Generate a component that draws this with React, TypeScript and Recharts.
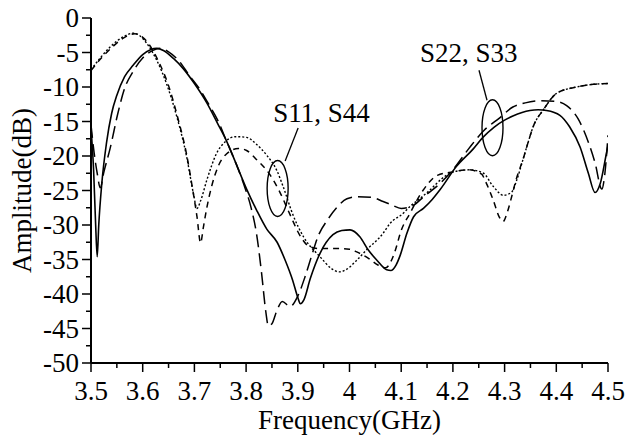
import React from 'react';
import { LineChart, Line, XAxis, YAxis, ReferenceDot, Label } from 'recharts';

// frequency (GHz) / amplitude (dB) pairs
const solidFreq = [3.5, 3.505, 3.509, 3.512, 3.515, 3.521, 3.53, 3.54, 3.55, 3.565, 3.581, 3.6, 3.615, 3.627, 3.64, 3.66, 3.678, 3.7, 3.724, 3.745, 3.762, 3.78, 3.801, 3.82, 3.84, 3.86, 3.875, 3.89, 3.9, 3.905, 3.912, 3.924, 3.943, 3.968, 3.985, 4.001, 4.02, 4.036, 4.053, 4.072, 4.08, 4.09, 4.098, 4.111, 4.124, 4.143, 4.16, 4.175, 4.207, 4.239, 4.258, 4.28, 4.3, 4.316, 4.349, 4.365, 4.381, 4.407, 4.426, 4.446, 4.462, 4.475, 4.485, 4.497, 4.5];
const solidAmp = [-16, -22, -30, -34.6, -30, -23.9, -18.1, -13.8, -11.2, -8.5, -6.9, -5.3, -4.6, -4.4, -4.7, -5.9, -7.3, -9.5, -12.3, -15.3, -17.8, -21, -24.8, -27.8, -30.6, -32.5, -35, -38, -40.5, -41.4, -40.8, -37.8, -34.1, -31.4, -30.8, -30.7, -31.7, -33.6, -35.1, -36.5, -36.6, -35.8, -34.4, -31.2, -28.8, -27.6, -26.3, -24.9, -21.5, -19, -17.3, -15.8, -14.8, -14.2, -13.4, -13.3, -13.4, -14.1, -15.8, -18.7, -22.5, -25.3, -24, -19.6, -18.5];

const longFreq = [3.5, 3.506, 3.512, 3.518, 3.525, 3.537, 3.552, 3.565, 3.581, 3.6, 3.62, 3.635, 3.65, 3.67, 3.69, 3.711, 3.73, 3.745, 3.762, 3.78, 3.795, 3.81, 3.82, 3.83, 3.838, 3.843, 3.85, 3.86, 3.87, 3.885, 3.9, 3.914, 3.927, 3.94, 3.958, 3.975, 3.995, 4.014, 4.043, 4.065, 4.082, 4.1, 4.12, 4.145, 4.175, 4.2, 4.23, 4.26, 4.29, 4.316, 4.34, 4.37, 4.4, 4.42, 4.442, 4.462, 4.475, 4.488, 4.494, 4.5];
const longAmp = [-15.5, -19.5, -22.5, -24.6, -22.3, -18.9, -13.8, -10.2, -7.8, -5.8, -4.7, -4.4, -4.9, -6.2, -8.3, -10.4, -12.8, -14.8, -17.8, -21, -24, -27.6, -31.2, -37, -42.5, -44.6, -44.3, -42.3, -41.1, -41.8, -40.3, -37.5, -34.4, -31.5, -29.2, -27.5, -26.2, -25.9, -26, -26.6, -27.1, -27.6, -27.3, -25.8, -24, -22, -19, -16.3, -14.5, -12.9, -12.3, -12, -12.1, -12.7, -14.6, -18, -21, -24.8, -22.5, -17];

const dotFreq = [3.5, 3.52, 3.537, 3.563, 3.582, 3.595, 3.608, 3.627, 3.646, 3.666, 3.685, 3.698, 3.705, 3.712, 3.724, 3.743, 3.76, 3.78, 3.801, 3.82, 3.84, 3.86, 3.872, 3.891, 3.911, 3.943, 3.965, 3.98, 3.995, 4.014, 4.033, 4.065, 4.078, 4.104, 4.117, 4.136, 4.156, 4.18, 4.201, 4.233, 4.259, 4.278, 4.298, 4.314, 4.323, 4.336, 4.346, 4.355, 4.375, 4.401, 4.439, 4.472, 4.5];
const dotAmp = [-7.5, -5.6, -4.2, -2.7, -2.2, -2.6, -3.7, -6.1, -9.5, -14.3, -20.1, -25.4, -27.6, -26.5, -23.5, -19.6, -17.9, -17.2, -17.3, -18.3, -19.9, -22.2, -24.5, -28.6, -31.7, -34.6, -36.3, -36.8, -36.4, -35.1, -33.6, -31.2, -29.8, -28.3, -27.3, -26.2, -24.9, -23.2, -22.3, -22, -22.5, -24.4, -25.7, -25.2, -23.6, -20.4, -17.9, -15.8, -13.3, -10.9, -10, -9.6, -9.5];

const shortFreq = [3.5, 3.52, 3.54, 3.565, 3.585, 3.6, 3.612, 3.63, 3.65, 3.668, 3.685, 3.697, 3.705, 3.712, 3.717, 3.724, 3.733, 3.746, 3.762, 3.785, 3.801, 3.82, 3.845, 3.865, 3.885, 3.904, 3.92, 3.94, 3.97, 4.0, 4.014, 4.036, 4.055, 4.07, 4.08, 4.088, 4.1, 4.117, 4.142, 4.17, 4.2, 4.23, 4.255, 4.265, 4.278, 4.29, 4.297, 4.305, 4.314, 4.322, 4.336, 4.346, 4.355, 4.375, 4.401, 4.439, 4.472, 4.5];
const shortAmp = [-7.6, -5.8, -4.3, -2.8, -2.3, -2.8, -3.8, -6.2, -9.8, -14.5, -19.8, -25, -28.8, -32.6, -30.5, -27.5, -24.5, -21.5, -19.7, -18.9, -19.2, -20.5, -22.6, -25.2, -28.5, -31.5, -33, -33.4, -33.4, -33.5, -33.9, -34.8, -35.8, -36.2, -35.3, -33.8, -30.8, -28.3, -25, -22.8, -22.3, -22, -22.6, -24, -26.4, -28.9, -29.5, -28.2, -25.8, -23.5, -20.4, -17.9, -15.8, -13.3, -10.9, -10, -9.6, -9.5];

const xTicks = [3.5, 3.55, 3.6, 3.65, 3.7, 3.75, 3.8, 3.85, 3.9, 3.95, 4, 4.05, 4.1, 4.15, 4.2, 4.25, 4.3, 4.35, 4.4, 4.45, 4.5];
const yTicks = [0, -2.5, -5, -7.5, -10, -12.5, -15, -17.5, -20, -22.5, -25, -27.5, -30, -32.5, -35, -37.5, -40, -42.5, -45, -47.5, -50];

const toRows = (f: number[], a: number[]) => f.map((x, i) => ({ f: x, a: a[i] }));
const solidData = toRows(solidFreq, solidAmp);
const longData = toRows(longFreq, longAmp);
const dotData = toRows(dotFreq, dotAmp);
const shortData = toRows(shortFreq, shortAmp);

const txt: React.CSSProperties = { fontFamily: "'Liberation Serif', 'DejaVu Serif', serif", fontSize: 27 };

const isMajor = (v: number, step: number) => Math.abs(v / step - Math.round(v / step)) < 1e-6;

const XTick = (props: any) => {
  const { x, y, payload } = props;
  const v = payload.value as number;
  const major = isMajor(v, 0.1);
  return (
    <g>
      <line x1={x} y1={y} x2={x} y2={y + (major ? 9 : 5)} stroke="#000" strokeWidth={1.5} />
      {major && (
        <text x={x} y={y + 37} textAnchor="middle" style={txt} fill="#000">
          {String(Math.round(v * 10) / 10)}
        </text>
      )}
    </g>
  );
};

const YTick = (props: any) => {
  const { x, y, payload } = props;
  const v = payload.value as number;
  const major = isMajor(v, 5);
  return (
    <g>
      <line x1={x} y1={y} x2={x - (major ? 9 : 5)} y2={y} stroke="#000" strokeWidth={1.5} />
      {major && (
        <text x={x - 12} y={y + 9} textAnchor="end" style={txt} fill="#000">
          {String(v)}
        </text>
      )}
    </g>
  );
};

// ellipse + leader line + caption, offsets in px from the ellipse centre
const Note = ({ cx, cy, text, tx, ty, l }: any) => (
  <g>
    <ellipse cx={cx} cy={cy} rx={10.5} ry={28} fill="none" stroke="#000" strokeWidth={1.4} />
    <line x1={cx + l[0]} y1={cy + l[1]} x2={cx + l[2]} y2={cy + l[3]} stroke="#000" strokeWidth={1.3} />
    <text x={cx + tx} y={cy + ty} style={txt} fill="#000">{text}</text>
  </g>
);

export default function App() {
  return (
    <div style={{ position: 'absolute', left: 0, top: 0, background: '#fff' }}>
      <LineChart width={635} height={443} margin={{ top: 18, right: 27, left: 0, bottom: 0 }}>
        <XAxis
          dataKey="f"
          type="number"
          domain={[3.5, 4.5]}
          ticks={xTicks}
          interval={0}
          height={80}
          tickSize={0}
          tickMargin={0}
          tickLine={false}
          tick={<XTick />}
          axisLine={{ stroke: '#000', strokeWidth: 2 }}
          allowDataOverflow
        >
          <Label
            content={(p: any) => (
              <text x={p.viewBox.x + p.viewBox.width / 2} y={p.viewBox.y + 66} textAnchor="middle" style={txt} fill="#000">
                Frequency(GHz)
              </text>
            )}
          />
        </XAxis>
        <XAxis xAxisId="top" orientation="top" type="number" domain={[3.5, 4.5]} height={0} tick={false} tickLine={false} axisLine={{ stroke: '#000', strokeWidth: 1.5 }} />
        <YAxis
          type="number"
          domain={[-50, 0]}
          ticks={yTicks}
          interval={0}
          width={91}
          tickSize={0}
          tickMargin={0}
          tickLine={false}
          tick={<YTick />}
          axisLine={{ stroke: '#000', strokeWidth: 2 }}
          allowDataOverflow
        >
          <Label
            content={(p: any) => {
              const cy = p.viewBox.y + p.viewBox.height / 2;
              return (
                <text x={31} y={cy} transform={`rotate(-90, 31, ${cy})`} textAnchor="middle" style={txt} fill="#000">
                  Amplitude(dB)
                </text>
              );
            }}
          />
        </YAxis>
        <YAxis yAxisId="right" orientation="right" type="number" domain={[-50, 0]} width={0} tick={false} tickLine={false} axisLine={{ stroke: '#000', strokeWidth: 1.5 }} />

        <Line data={solidData} dataKey="a" type="monotone" stroke="#000" strokeWidth={1.6} dot={false} isAnimationActive={false} />
        <Line data={longData} dataKey="a" type="monotone" stroke="#000" strokeWidth={1.5} strokeDasharray="13 6" dot={false} isAnimationActive={false} />
        <Line data={dotData} dataKey="a" type="monotone" stroke="#000" strokeWidth={1.4} strokeDasharray="2 2" dot={false} isAnimationActive={false} />
        <Line data={shortData} dataKey="a" type="monotone" stroke="#000" strokeWidth={1.5} strokeDasharray="6 5" dot={false} isAnimationActive={false} />

        <ReferenceDot
          x={3.861}
          y={-24.7}
          shape={(p: any) => <Note cx={p.cx} cy={p.cy} text="S11, S44" tx={-4.5} ty={-66.5} l={[7.5, -27.5, 20.5, -60.5]} />}
        />
        <ReferenceDot
          x={4.2766}
          y={-15.9}
          shape={(p: any) => <Note cx={p.cx} cy={p.cy} text="S22, S33" tx={-72.5} ty={-65.5} l={[-5.5, -27.5, -13.5, -57.5]} />}
        />
      </LineChart>
    </div>
  );
}
